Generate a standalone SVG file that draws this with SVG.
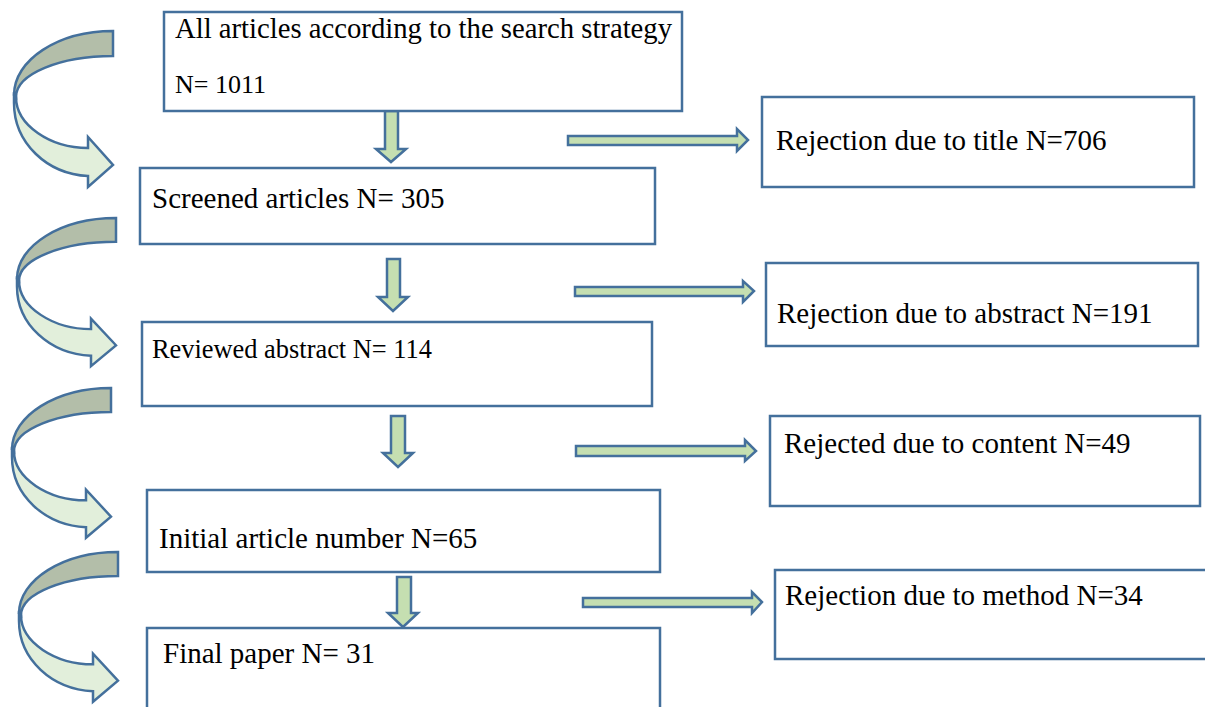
<svg xmlns="http://www.w3.org/2000/svg" width="1205" height="707" viewBox="0 0 1205 707">
<defs>
<style>
.box{fill:#fff;stroke:#44709c;stroke-width:2.5}
.arr{fill:#c5dfb1;stroke:#44709c;stroke-width:2.5;stroke-linejoin:miter}
.cu{fill:#b3bea9;stroke:#44709c;stroke-width:2.5}
.cl{fill:#e2efdb;stroke:#44709c;stroke-width:2.5}
text{font-family:"Liberation Serif","Times New Roman",serif;fill:#000;font-size:29px}
.s26{font-size:26px}
.s265{font-size:26.4px}
.s287{font-size:28.7px}
</style>
<g id="curved">
<path class="cu" d="M113,0 C58,0 14,29 14,64 L16,66 C16,43 60,25 113,25 Z"/>
<path class="cl" d="M14,64 L14,72 C14,112 47,143 88,145 L88,156 L113,134 L88,106 L88,117 C50,117 16,94 16,66 Z"/>
</g>
</defs>
<rect width="1205" height="707" fill="#fff"/>
<g id="connectors">
<use href="#curved" transform="translate(0,31)"/>
<use href="#curved" transform="translate(3,218) scale(1,0.95)"/>
<use href="#curved" transform="translate(-2,388) scale(1,0.96)"/>
<use href="#curved" transform="translate(5,552) scale(1,0.96)"/>
<path class="arr" d="M385,111 L398,111 L398,149 L406,149 L391,162 L376,149 L385,149 Z"/>
<path class="arr" d="M387,259 L400,259 L400,297 L408,297 L393,311 L378,297 L387,297 Z"/>
<path class="arr" d="M391,416 L405,416 L405,453 L413,453 L398,467 L383,453 L391,453 Z"/>
<path class="arr" d="M397,577 L411,577 L411,613 L418,613 L403,627 L388,613 L397,613 Z"/>
<path class="arr" d="M568,136 L737,136 L737,129 L748,140 L737,151 L737,145 L568,145 Z"/>
<path class="arr" d="M575,287 L743,287 L743,281 L754,291 L743,302 L743,296 L575,296 Z"/>
<path class="arr" d="M576,446 L745,446 L745,440 L756,451 L745,461 L745,456 L576,456 Z"/>
<path class="arr" d="M583,598 L752,598 L752,592 L762,602 L752,613 L752,607 L583,607 Z"/>
</g>
<g id="n1"><rect class="box" x="164" y="12" width="518" height="99"/>
<text class="s287" x="175" y="38">All articles according to the search strategy</text>
<text class="s26" x="175" y="93">N= 1011</text></g>
<g id="n2"><rect class="box" x="140" y="168" width="515" height="76"/>
<text x="152" y="208">Screened articles N= 305</text></g>
<g id="n3"><rect class="box" x="142" y="322" width="510" height="84"/>
<text class="s265" x="152" y="358">Reviewed abstract N= 114</text></g>
<g id="n4"><rect class="box" x="147" y="490" width="513" height="82"/>
<text x="159" y="548">Initial article number N=65</text></g>
<g id="n5"><rect class="box" x="147" y="628" width="513" height="90"/>
<text x="163" y="663">Final paper N= 31</text></g>
<g id="r1"><rect class="box" x="762" y="97" width="432" height="90"/>
<text x="776" y="150">Rejection due to title N=706</text></g>
<g id="r2"><rect class="box" x="766" y="263" width="432" height="83"/>
<text x="777" y="323">Rejection due to abstract N=191</text></g>
<g id="r3"><rect class="box" x="770" y="416" width="430" height="90"/>
<text x="784" y="453">Rejected due to content N=49</text></g>
<g id="r4"><rect class="box" x="775" y="570" width="440" height="89"/>
<text x="785" y="605">Rejection due to method N=34</text></g>
</svg>
